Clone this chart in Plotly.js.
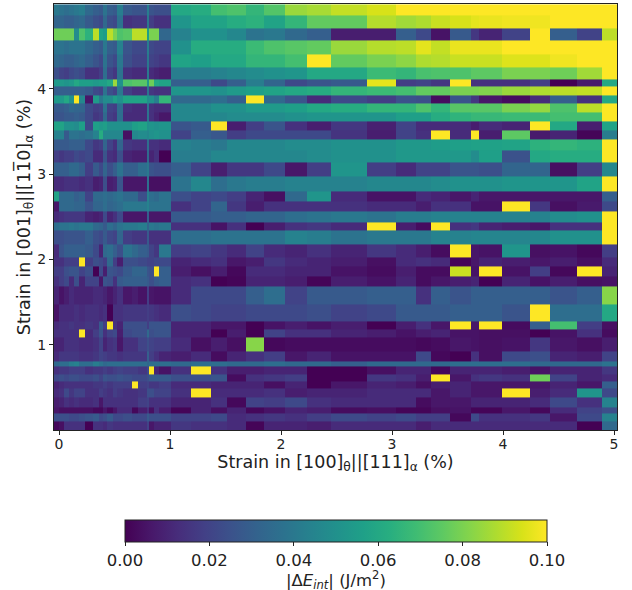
<!DOCTYPE html>
<html><head><meta charset="utf-8">
<script src="https://cdn.plot.ly/plotly-3.0.1.min.js"></script>
<style>html,body{margin:0;padding:0;background:#fff}</style></head>
<body><div id="c" style="width:632px;height:590px"></div>
<script>
const xEdges = [-0.045,0.003,0.045,0.09,0.132,0.177,0.237,0.306,0.358,0.394,0.43,0.489,0.52,0.574,0.66,0.714,0.79,0.811,0.856,0.898,1.006,
 1.186,1.369,1.514,1.682,1.847,2.036,2.232,2.45,2.772,3.033,3.216,3.351,3.523,3.712,3.784,3.988,4.243,4.423,4.667,4.892,5.027];
const yEdgesTopDown = [4.99,4.857,4.709,4.564,4.408,4.252,4.115,4.025,3.927,3.83,3.72,3.614,3.517,3.411,3.283,3.138,2.97,2.794,2.685,2.567,2.43,2.345,2.18,2.02,1.914,1.805,1.688,1.477,1.278,1.184,1.09,0.926,0.801,0.742,0.657,0.566,0.492,0.387,0.27,0.199,0.097,0];
// values in 10^-3 J/m2, rows listed top to bottom, strain < 1 %
const lowStrainRows = [
[40,38,36,38,40,42,34,30,28,38,30,28,42,28,26,26,42,26,24,24],
[32,32,30,30,32,34,28,24,22,34,24,22,38,14,16,16,40,18,14,14],
[78,78,78,78,48,72,64,90,58,55,90,80,72,74,90,90,56,80,80,33],
[38,38,36,38,38,38,34,30,28,40,30,28,44,26,22,22,42,22,20,20],
[34,32,30,30,32,34,30,26,22,38,26,22,40,24,20,20,40,20,18,16],
[24,20,18,22,24,22,14,14,18,36,20,16,38,14,12,12,40,12,10,8],
[54,54,52,54,60,56,56,54,56,56,60,85,50,72,74,74,54,78,60,58],
[30,30,30,30,30,30,28,22,20,38,24,20,40,18,14,14,38,16,14,14],
[54,54,60,50,100,46,6,54,40,48,48,56,50,58,58,58,48,50,42,66],
[28,28,30,34,32,32,22,18,20,38,20,18,36,14,12,12,38,14,12,12],
[26,26,28,28,30,28,22,16,18,34,18,16,36,12,12,12,38,14,10,6],
[58,58,50,50,48,56,22,56,54,56,50,50,50,50,56,58,50,52,50,52],
[44,44,28,38,38,36,38,44,62,46,46,46,46,4,46,48,46,50,52,50],
[28,28,28,30,30,30,22,16,18,32,20,14,32,16,14,14,36,14,14,12],
[18,16,18,18,22,20,22,12,12,26,14,12,24,10,8,8,34,10,14,0],
[30,30,30,34,34,30,18,28,22,32,24,30,38,30,30,36,40,26,24,24],
[12,12,14,14,14,12,14,8,10,24,8,10,26,6,6,6,36,4,4,4],
[58,34,34,34,30,32,20,34,34,36,34,36,38,34,34,24,44,36,34,38],
[6,34,34,34,32,32,26,32,32,36,32,34,36,40,40,40,44,38,38,38],
[12,14,16,16,16,16,10,8,10,22,10,14,22,6,6,6,30,6,6,6],
[36,38,38,40,38,40,40,34,32,28,36,32,38,40,40,42,32,40,38,40],
[24,24,26,26,26,26,30,24,22,28,22,20,32,18,16,16,28,14,14,14],
[12,26,30,30,30,30,28,22,10,34,36,30,24,38,34,30,28,20,16,40],
[14,14,18,18,18,100,18,24,22,18,34,18,8,24,24,22,20,20,22,22],
[18,18,24,26,26,20,24,0,22,8,26,24,22,28,32,32,26,24,100,30],
[14,18,22,12,24,10,20,20,6,26,24,14,28,30,30,30,28,24,28,30],
[10,5,8,12,10,10,10,12,12,10,6,10,14,6,8,5,18,6,5,5],
[5,12,12,12,14,12,14,14,12,14,0,14,14,16,16,16,18,16,14,12],
[12,14,14,16,14,14,16,14,28,18,100,14,10,24,24,24,18,26,26,26],
[14,14,14,14,14,100,12,18,26,14,20,22,8,22,24,24,34,24,26,26],
[10,10,14,14,14,12,12,14,20,10,14,16,6,14,14,20,24,20,18,18],
[12,16,16,16,16,14,14,16,20,18,16,16,14,16,16,16,30,18,14,10],
[34,36,36,42,44,36,36,42,38,34,36,36,36,36,36,36,32,36,36,36],
[14,16,16,18,18,18,14,16,16,18,16,18,20,18,18,16,22,100,10,5],
[22,24,22,24,24,22,22,24,20,26,24,24,26,24,22,22,24,28,28,28],
[10,12,14,14,14,14,14,16,16,18,16,18,18,18,100,18,20,16,16,18],
[12,14,22,16,20,20,14,14,18,16,14,18,16,14,14,16,24,24,20,20],
[8,10,14,12,14,12,12,14,6,14,14,14,14,14,14,18,20,14,14,14],
[6,4,4,4,4,4,4,2,2,6,2,6,12,12,2,8,14,4,14,8],
[24,24,24,22,22,24,26,28,22,24,28,22,22,24,22,22,28,24,24,24],
[2,4,14,14,14,14,0,14,14,12,16,14,14,14,14,14,20,6,10,10]
];
// same rows, strain > 1 %
const highStrainRows = [
[60,62,70,72,66,73,85,87,91,94,100,100,100,100,100,100,100,100,100,100,100],
[52,58,58,62,64,58,66,76,76,89,86,88,92,94,96,97,98,98,100,100,100],
[44,50,50,46,38,40,34,30,8,8,30,22,5,28,16,10,20,100,30,20,90],
[50,62,62,62,68,72,74,76,85,89,90,96,91,97,97,97,100,100,100,100,100],
[58,56,60,60,66,66,70,100,76,80,83,88,89,92,92,92,95,95,98,100,100],
[42,42,44,46,48,50,52,60,60,68,66,71,72,72,75,75,80,80,78,86,100],
[30,30,22,30,42,32,22,26,28,96,18,20,16,100,14,14,14,18,0,7,60],
[52,52,50,54,56,58,60,62,66,68,70,76,76,80,80,81,85,88,90,91,100],
[34,34,36,30,100,34,26,12,22,18,25,24,3,26,16,6,3,12,30,14,60],
[46,46,50,50,54,54,56,60,62,66,66,72,66,74,74,74,80,84,72,90,100],
[46,46,46,48,48,48,50,52,52,52,56,56,62,65,67,67,68,68,70,70,100],
[26,28,100,8,18,26,14,8,16,9,20,12,12,12,8,12,10,100,60,8,58],
[20,30,27,18,22,22,22,22,15,8,20,14,100,12,100,8,75,7,10,1,42],
[44,42,40,46,46,46,48,48,50,50,53,53,55,56,57,57,58,64,66,64,100],
[42,42,46,46,46,46,46,48,50,50,53,53,53,53,48,56,25,60,62,62,100],
[30,20,8,16,16,22,6,18,52,18,12,20,20,26,26,24,32,32,4,18,46],
[38,46,36,40,42,42,44,44,44,46,46,46,48,50,50,50,52,52,52,58,100],
[24,20,22,18,10,4,34,52,12,5,5,12,10,6,10,6,6,6,6,6,30],
[14,20,32,16,8,14,14,14,14,12,12,8,14,14,5,5,100,16,4,7,22],
[28,28,30,30,32,32,36,38,40,38,42,42,44,44,44,44,44,44,48,50,100],
[14,14,5,14,0,8,14,16,12,100,8,3,100,14,16,10,8,6,14,14,100],
[36,36,38,38,38,38,44,42,38,40,40,40,44,44,45,45,45,46,50,50,100],
[18,20,16,12,20,12,10,14,10,16,12,8,3,100,6,5,52,4,5,2,18],
[10,12,14,6,8,16,12,10,8,4,12,14,12,1,6,10,8,6,8,4,12],
[8,4,8,2,12,12,10,10,5,3,8,3,3,92,5,100,5,18,2,100,10],
[12,14,0,1,10,10,8,1,8,5,10,3,6,8,10,0,10,5,8,4,5],
[12,22,22,22,30,36,20,28,28,30,30,14,30,26,30,30,30,30,26,30,82],
[24,22,20,20,22,22,22,24,20,22,28,28,28,30,30,30,26,100,36,36,60],
[10,10,6,6,0,5,8,5,8,0,8,14,6,100,6,100,3,30,70,18,4],
[10,10,0,8,0,20,14,14,10,8,5,8,10,5,5,4,4,0,5,14,3],
[12,4,8,4,82,2,3,3,3,3,3,2,3,6,5,4,5,16,6,4,8],
[8,12,3,10,14,18,6,10,5,5,5,22,2,0,14,4,22,24,10,8,20],
[34,36,36,34,34,36,34,34,30,34,34,34,34,36,36,36,36,34,34,34,38],
[14,100,14,8,8,10,10,0,0,4,10,10,2,10,10,10,8,5,10,10,16],
[24,24,26,3,14,16,18,0,0,16,14,8,100,6,14,16,14,78,20,10,12],
[12,12,10,10,10,4,10,0,6,10,8,4,8,10,6,6,6,6,10,6,30],
[14,100,12,12,12,14,8,10,10,12,12,12,6,10,6,6,100,8,12,52,22],
[10,10,14,2,20,18,22,14,12,12,12,3,6,6,10,10,10,12,22,14,44],
[1,10,4,10,2,5,10,8,3,4,1,1,4,5,1,1,6,2,12,20,24],
[20,20,22,12,14,16,14,18,22,20,22,18,18,2,22,14,14,16,6,22,44],
[16,14,14,12,1,10,10,8,12,12,12,8,12,12,12,12,12,12,12,0,34]
];
const xTicks = [0,1,2,3,4,5];
const yTicks = [1,2,3,4];
const barTicks = [0,0.02,0.04,0.06,0.08,0.1];
const barTickText = ['0.00','0.02','0.04','0.06','0.08','0.10'];

const z = lowStrainRows.map((r,i)=>r.concat(highStrainRows[i]).map(v=>v/1000)).reverse();
const y = yEdgesTopDown.slice().reverse();
const font = 'DejaVu Sans, sans-serif';
Plotly.newPlot('c',[{
  type:'heatmap', x:xEdges, y:y, z:z, zmin:0, zmax:0.1, zsmooth:false,
  colorscale:'Viridis',
  colorbar:{orientation:'h', x:0.5009, xanchor:'center', xref:'paper', y:-0.211, yanchor:'top', yref:'paper',
    len:422, lenmode:'pixels', thickness:22, thicknessmode:'pixels', xpad:0, ypad:0,
    outlinewidth:1, outlinecolor:'#222', borderwidth:0,
    tickmode:'array', tickvals:barTicks, ticktext:barTickText, ticks:'outside', ticklen:4, tickcolor:'#222',
    tickfont:{family:font,size:16.5,color:'#222'}}
}],{
  width:632, height:590, paper_bgcolor:'#fff', plot_bgcolor:'#fff',
  margin:{l:54,r:15,t:4,b:160,autoexpand:false},
  font:{family:font,color:'#222'},
  xaxis:{range:[-0.045,5.027], tickmode:'array', tickvals:xTicks, ticks:'outside', ticklen:4, tickcolor:'#222',
    showgrid:false, zeroline:false, showline:true, linecolor:'#222', linewidth:1, mirror:true, ticklabelstandoff:-3,
    tickfont:{family:font,size:14,color:'#222'},
    title:{text:'Strain in [100]<sub>θ</sub>||[111]<sub>α</sub> (%)', font:{family:font,size:17.5,color:'#222'}, standoff:2}},
  yaxis:{range:[0,4.995], tickmode:'array', tickvals:yTicks, ticks:'outside', ticklen:4, tickcolor:'#222',
    showgrid:false, zeroline:false, showline:true, linecolor:'#222', linewidth:1, mirror:true,
    tickfont:{family:font,size:14,color:'#222'},
    title:{text:'Strain in [001]<sub>θ</sub>||[11\u03050]<sub>α</sub> (%)', font:{family:font,size:17.5,color:'#222'}, standoff:2}},
  annotations:[{xref:'paper',yref:'paper',x:0.5009,y:-0.353,xanchor:'center',yanchor:'middle',showarrow:false,
    text:'|Δ<i>E<sub>int</sub></i>| (J/m<sup>2</sup>)', font:{family:font,size:16.5,color:'#222'}}]
},{displayModeBar:false,staticPlot:true});
</script></body></html>
